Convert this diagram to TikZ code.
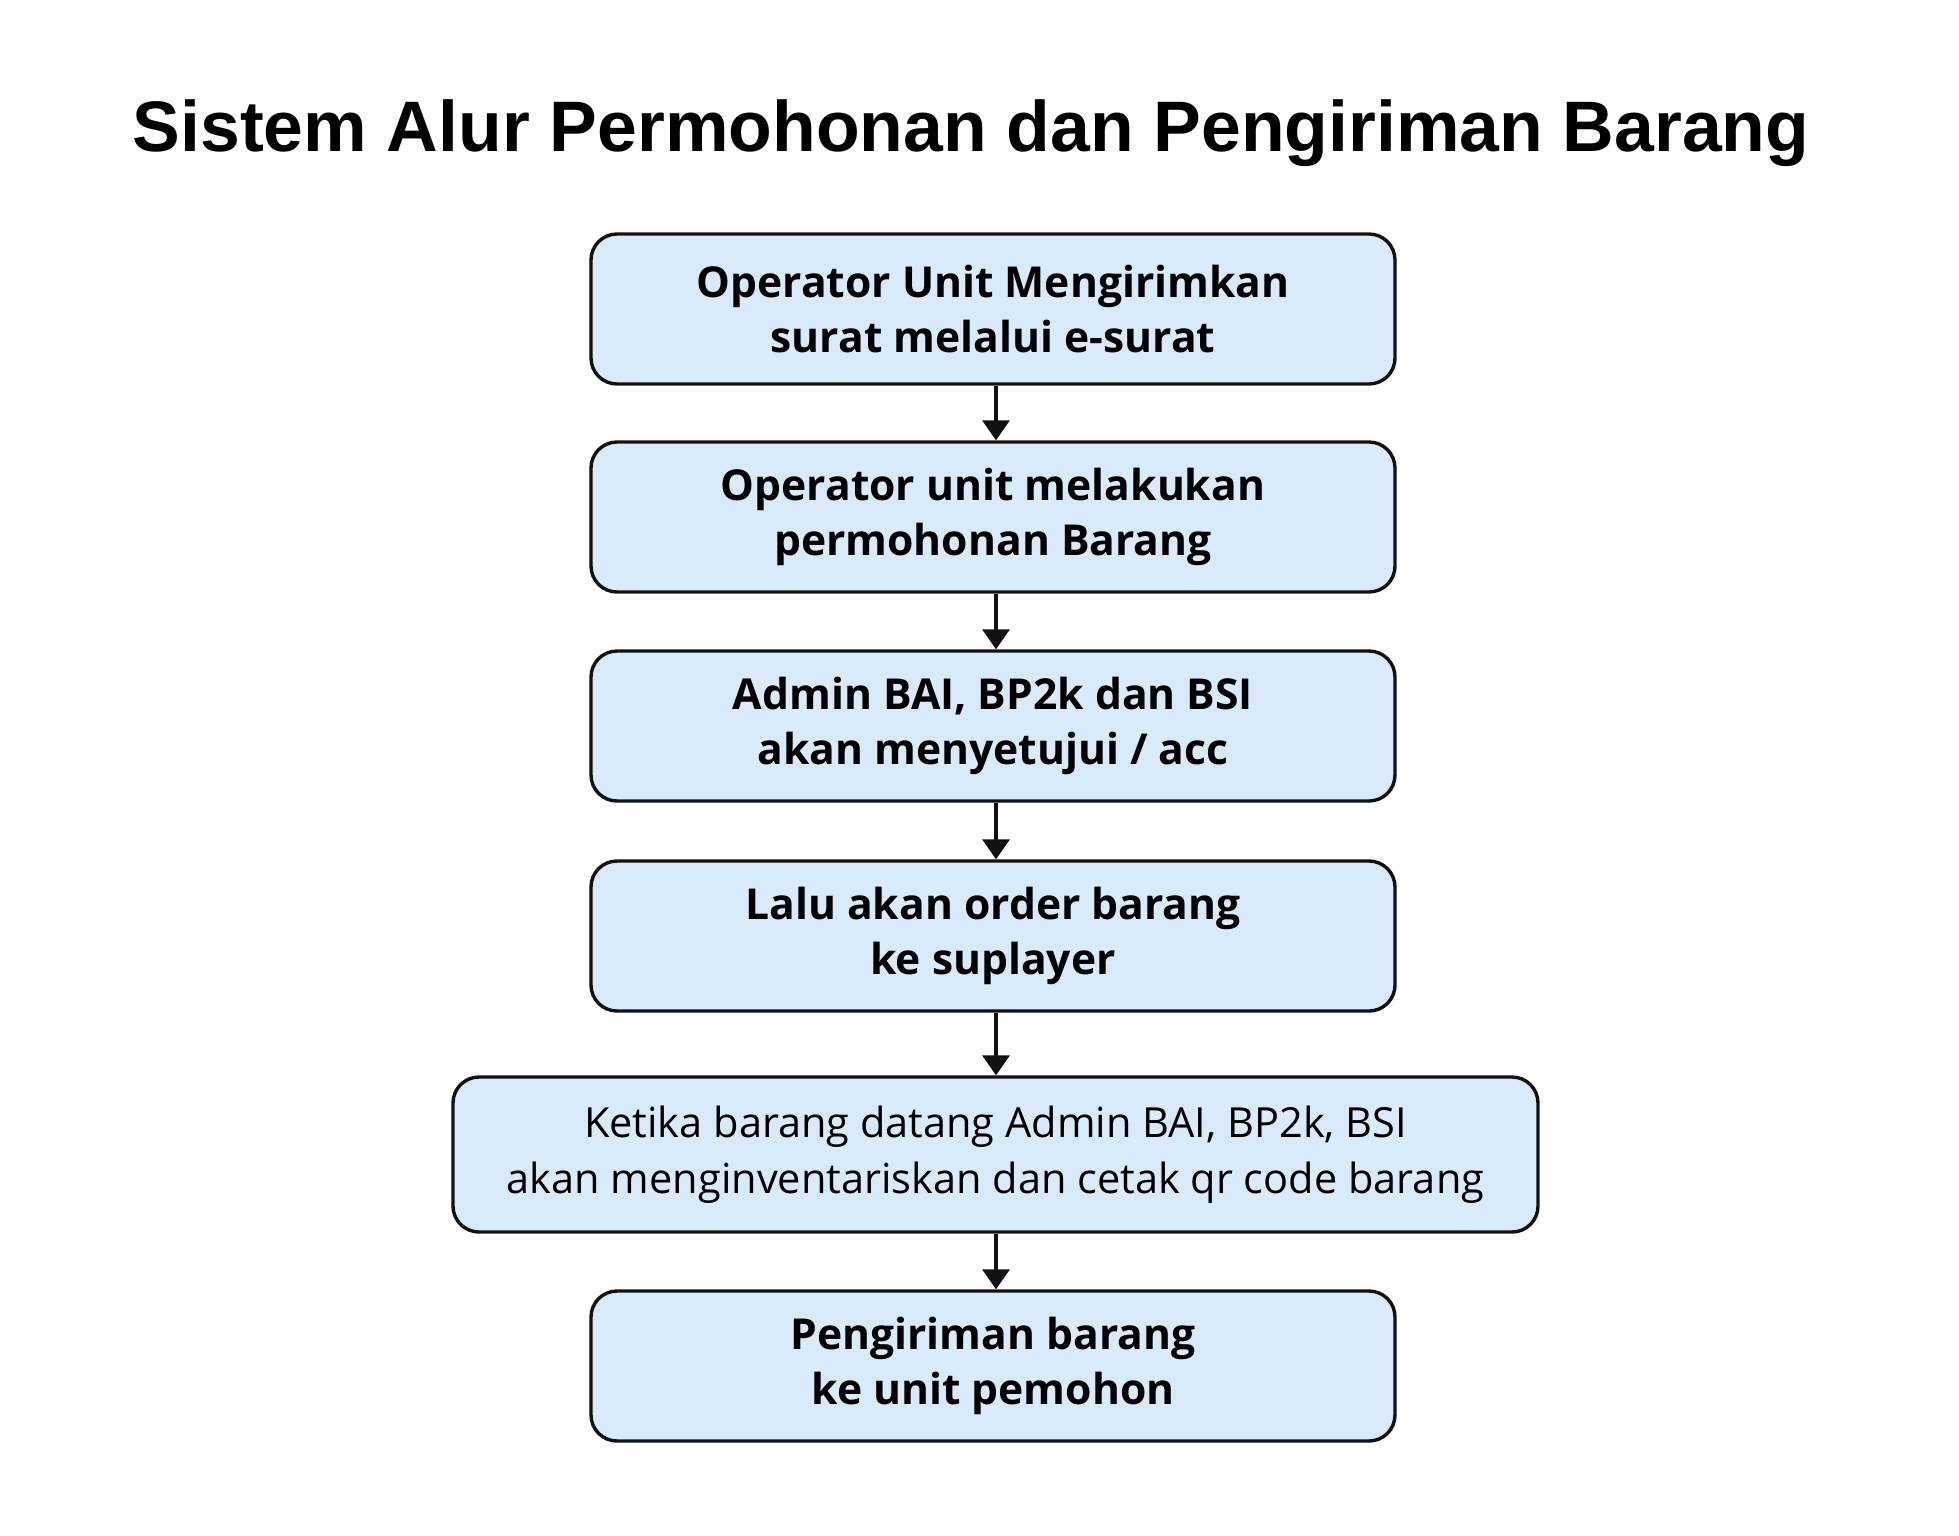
\documentclass[tikz,border=0pt]{standalone}
\usepackage{fontspec}
\setmainfont{Open Sans}
\newfontfamily\titlefont{Liberation Sans}
\usetikzlibrary{arrows.meta}
\definecolor{boxfill}{HTML}{D9EAFA}
\definecolor{boxline}{HTML}{111111}
\tikzset{
  stepbox/.style={draw=boxline, line width=3.4pt, fill=boxfill, rounded corners=26pt,
    minimum height=150pt, align=center, inner sep=0pt},
  narrowbox/.style={stepbox, minimum width=804pt, font=\fontsize{42.6}{55}\selectfont\bfseries},
  widebox/.style={stepbox, minimum width=1085pt, minimum height=155pt, font=\fontsize{41.5}{56}\selectfont},
  flow/.style={line width=3.6pt, draw=boxline, -{Triangle[length=20pt,width=27pt]}}
}
\begin{document}
\begin{tikzpicture}[x=1pt,y=-1pt]
\useasboundingbox (0,0) rectangle (1959,1535);
\fill[white] (0,0) rectangle (1959,1535);
\node[font=\titlefont\fontsize{71.5}{80}\selectfont\bfseries] (title) at (971,133) {Sistem Alur Permohonan dan Pengiriman Barang};
\node[narrowbox] (b1) at (993,309) {Operator Unit Mengirimkan\\surat melalui e-surat};
\node[narrowbox] (b2) at (993,517) {Operator unit melakukan\\permohonan Barang};
\node[narrowbox] (b3) at (993,726) {Admin BAI, BP2k dan BSI\\akan menyetujui / acc};
\node[narrowbox] (b4) at (993,936) {Lalu akan order barang\\ke suplayer};
\node[widebox] (b5) at (995.5,1154.5) {Ketika barang datang Admin BAI, BP2k, BSI\\akan menginventariskan dan cetak qr code barang};
\node[narrowbox] (b6) at (993,1366) {Pengiriman barang\\ke unit pemohon};
\draw[flow] ([xshift=3pt]b1.south) -- ([xshift=3pt]b2.north);
\draw[flow] ([xshift=3pt]b2.south) -- ([xshift=3pt]b3.north);
\draw[flow] ([xshift=3pt]b3.south) -- ([xshift=3pt]b4.north);
\draw[flow] ([xshift=3pt]b4.south) -- ([xshift=3pt]b5.north -| b4.south);
\draw[flow] ([xshift=3pt]b5.south -| b6.north) -- ([xshift=3pt]b6.north);
\end{tikzpicture}
\end{document}
